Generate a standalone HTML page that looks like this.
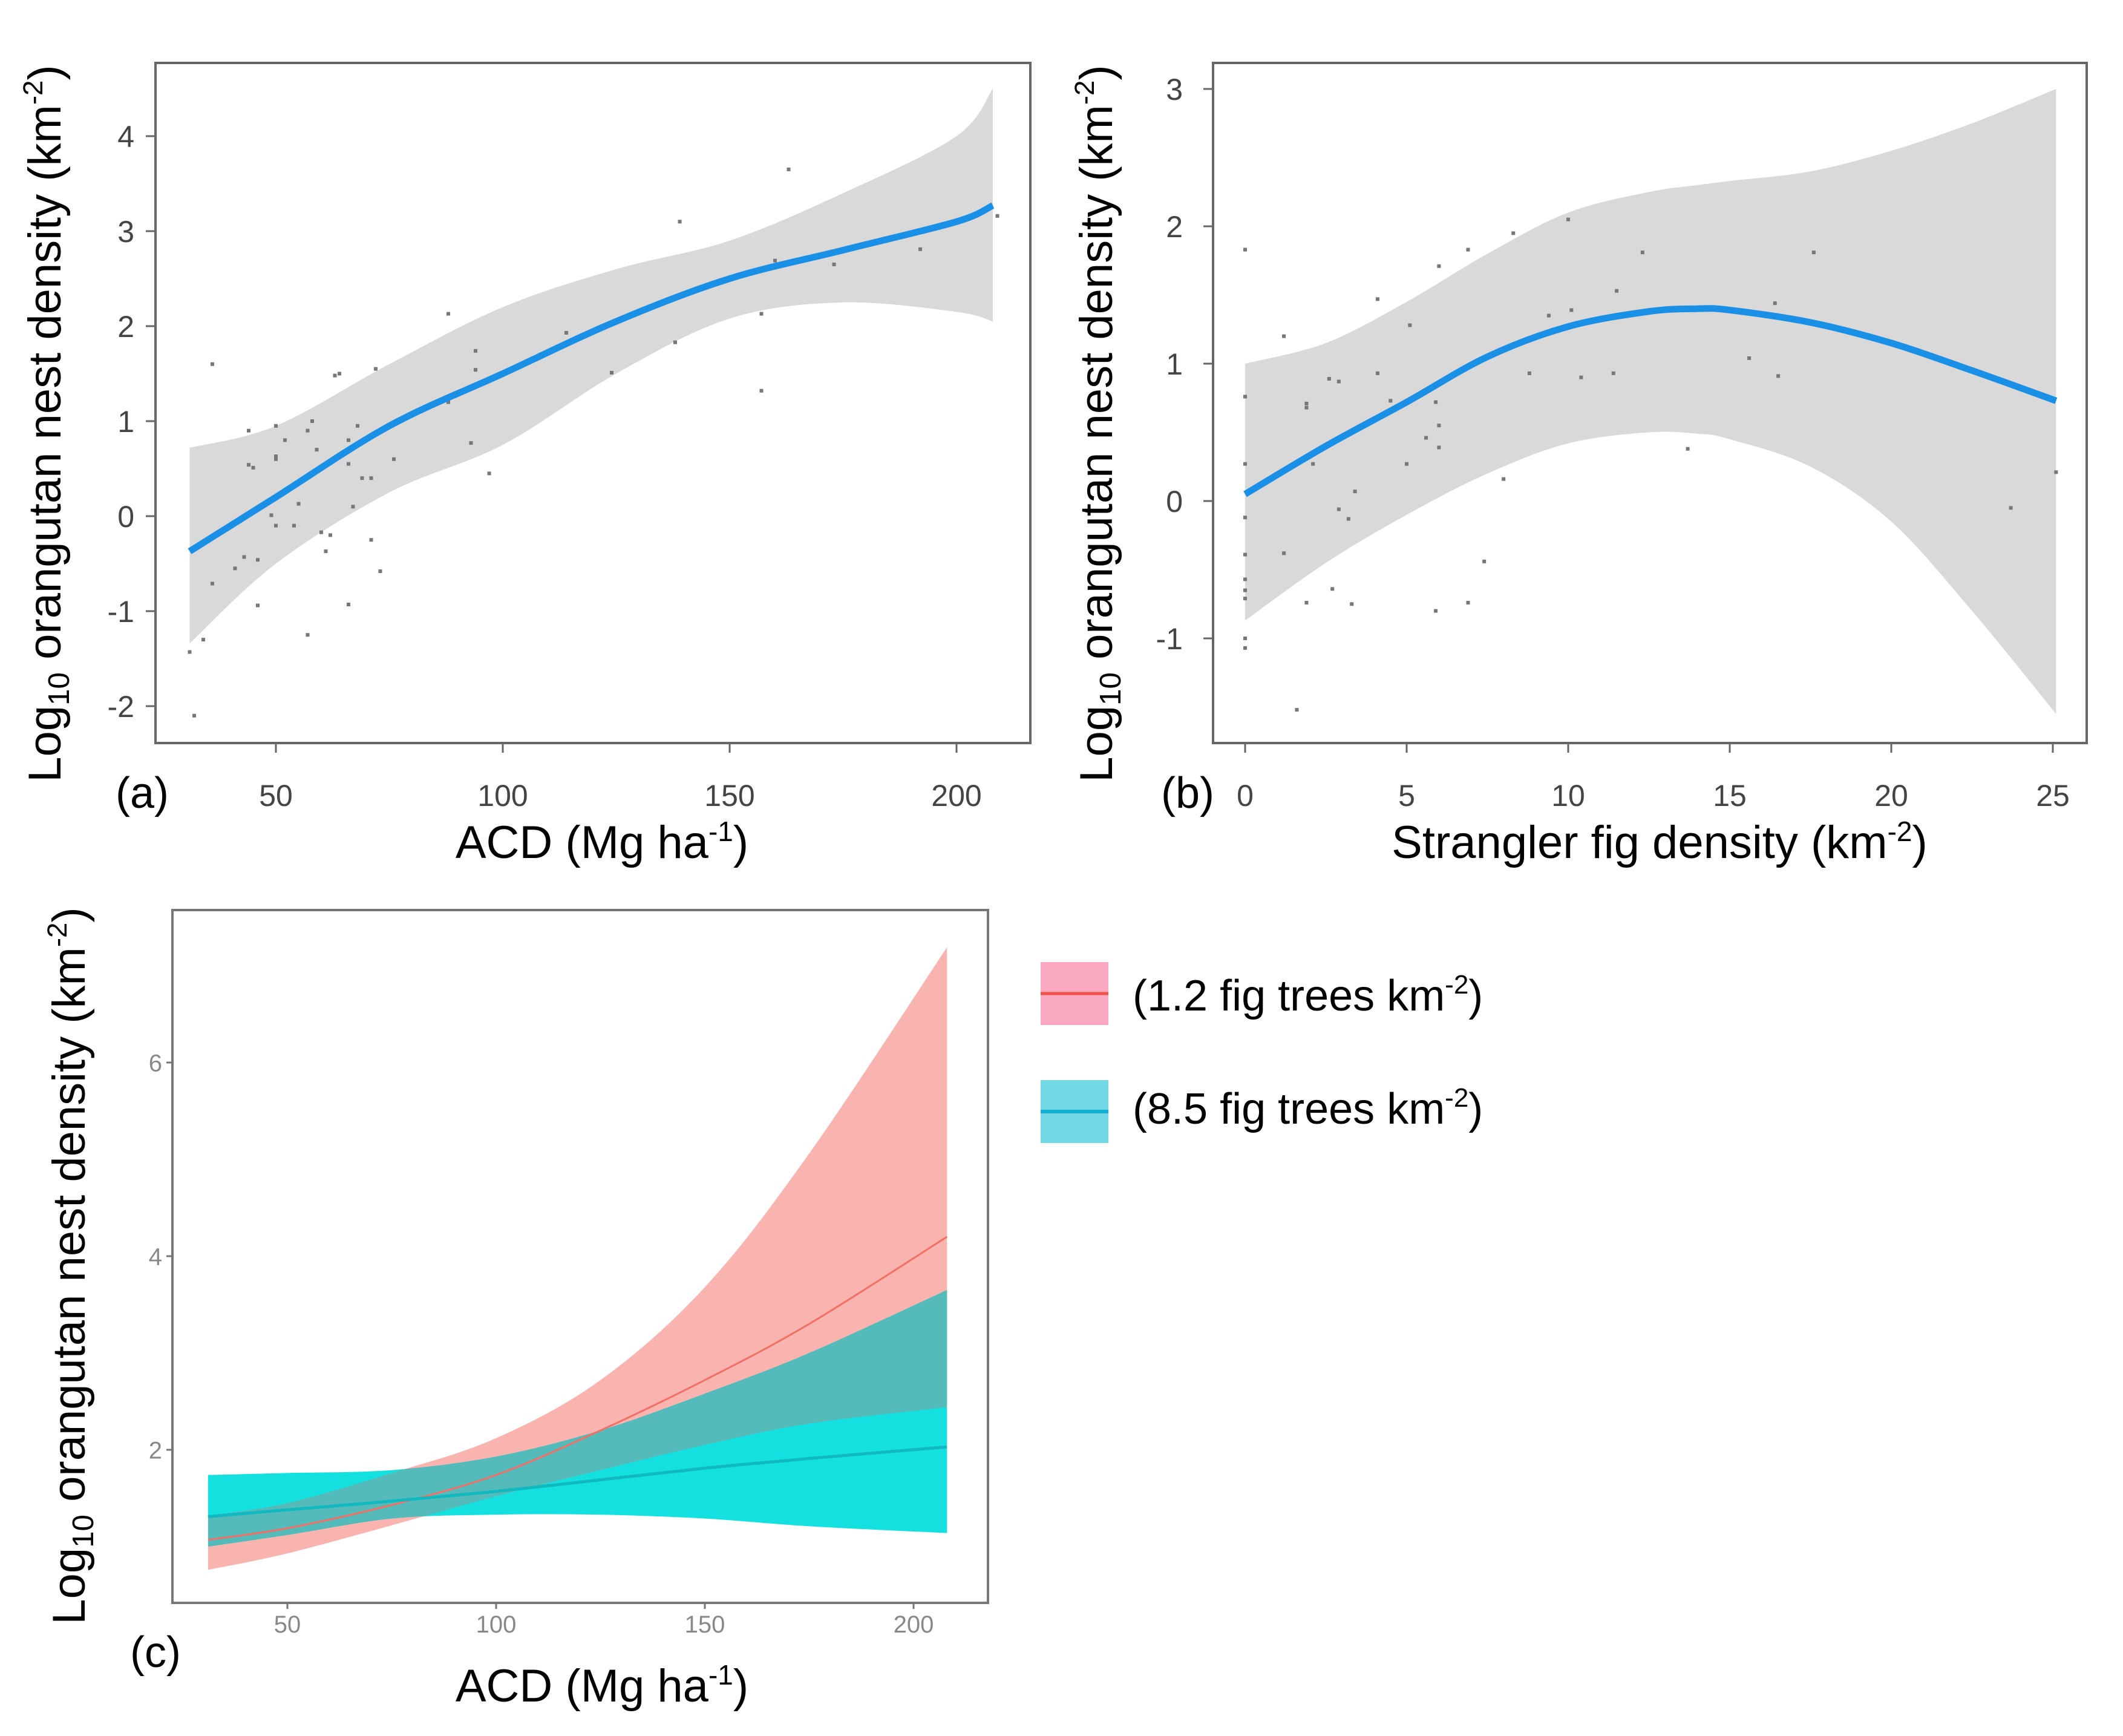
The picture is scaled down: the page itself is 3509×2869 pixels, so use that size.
<!DOCTYPE html>
<html><head><meta charset="utf-8"><style>
html,body{margin:0;padding:0;background:#fff;}
svg{display:block;}
text{font-family:"Liberation Sans",sans-serif;}
</style></head><body>
<svg id="fig" width="3509" height="2869" viewBox="0 0 3509 2869" xmlns="http://www.w3.org/2000/svg">
<rect width="3509" height="2869" fill="#fff"/>
<defs>
<clipPath id="redclip"><path id="redclipPath" d=""/></clipPath>
</defs>
<g id="pa"></g>
<g id="pb"></g>
<g id="pc"></g>
</svg>
<script>
// Panel a data
const aCurveX=[31,50,75,100,125,150,175,200,208];
const aFit=[-0.37,0.2,0.95,1.5,2.05,2.5,2.8,3.1,3.27];
const aUpper=[0.72,0.95,1.6,2.2,2.6,2.9,3.4,4.0,4.5];
const aLower=[-1.34,-0.5,0.25,0.75,1.5,2.08,2.25,2.15,2.05];
const aPtsX=[36,31,32,34,36,41,43,44,44,45,46,46,50,50,50,49,50,52,54,55,57,58,59,60,61,62,57,63,64,66,66,66,68,67,69,71,71,72,73,76,88,88,93,94,94,97,114,124,138,139,157,157,160,163,173,192,209];
const aPtsY=[1.6,-1.43,-2.1,-1.3,-0.71,-0.55,-0.43,0.9,0.54,0.51,-0.46,-0.94,0.95,0.63,0.6,0.01,-0.1,0.8,-0.1,0.13,0.9,1.0,0.7,-0.17,-0.37,-0.2,-1.25,1.48,1.5,0.8,0.55,-0.93,0.95,0.1,0.4,0.4,-0.25,1.55,-0.58,0.6,2.13,1.2,0.77,1.74,1.54,0.45,1.93,1.51,1.83,3.1,2.13,1.32,2.69,3.65,2.65,2.81,3.16];
const aXTicks=[50,100,150,200];
const aYTicks=[-2,-1,0,1,2,3,4];
// Panel b data
const bCurveX=[0,2.5,5,7.5,10,12.5,14,15,17.5,20,22.5,25.1];
const bFit=[0.05,0.4,0.72,1.05,1.27,1.38,1.4,1.39,1.3,1.15,0.95,0.73];
const bUpper=[1.0,1.15,1.45,1.8,2.1,2.25,2.3,2.33,2.4,2.55,2.75,3.0];
const bLower=[-0.87,-0.45,-0.1,0.2,0.42,0.5,0.49,0.45,0.25,-0.15,-0.8,-1.55];
const bPtsX=[0,0,0,0,0,0,0,0,0,0,1.2,1.2,1.6,1.9,1.9,1.9,2.1,2.6,2.9,2.7,2.9,3.2,3.3,3.4,4.1,4.1,4.5,5.1,5.0,5.6,5.9,6.0,5.9,6.0,6.0,6.9,6.9,7.4,8.0,8.3,8.8,9.4,10.0,10.1,10.4,11.4,11.5,12.3,13.7,15.6,16.4,16.5,17.6,23.7,25.1];
const bPtsY=[1.83,0.76,0.27,-0.12,-0.39,-0.57,-0.65,-0.71,-1.0,-1.07,1.2,-0.38,-1.52,0.71,0.68,-0.74,0.27,0.89,0.87,-0.64,-0.06,-0.13,-0.75,0.07,0.93,1.47,0.73,1.28,0.27,0.46,-0.8,1.71,0.72,0.55,0.39,1.83,-0.74,-0.44,0.16,1.95,0.93,1.35,2.05,1.39,0.9,0.93,1.53,1.81,0.38,1.04,1.44,0.91,1.81,-0.05,0.21];
const bXTicks=[0,5,10,15,20,25];
const bYTicks=[-1,0,1,2,3];
// Panel c data
const cX=[31,50,75,100,125,150,175,208];
const cRedFit=[1.07,1.19,1.43,1.74,2.2,2.72,3.3,4.2];
const cRedUpper=[1.32,1.45,1.76,2.12,2.72,3.68,5.06,7.19];
const cRedLower=[0.76,0.93,1.22,1.52,1.79,2.05,2.27,2.44];
const cTealFit=[1.31,1.38,1.47,1.57,1.69,1.81,1.91,2.03];
const cTealUpper=[1.74,1.76,1.79,1.93,2.2,2.58,3.0,3.65];
const cTealLower=[1.0,1.12,1.29,1.33,1.33,1.29,1.21,1.14];
const cXTicks=[50,100,150,200];
const cYTicks=[2,4,6];

const NS="http://www.w3.org/2000/svg";
function mk(parent,tag,attrs,txt){const e=document.createElementNS(NS,tag);for(const k in attrs)e.setAttribute(k,attrs[k]);if(txt!==undefined)e.textContent=txt;parent.appendChild(e);return e;}
function lin(d0,d1,p0,p1){return v=>p0+(v-d0)*(p1-p0)/(d1-d0);}
function smooth(pts){let d="M"+pts[0][0]+","+pts[0][1];for(let i=0;i<pts.length-1;i++){const p0=pts[Math.max(0,i-1)],p1=pts[i],p2=pts[i+1],p3=pts[Math.min(pts.length-1,i+2)];const c1=[p1[0]+(p2[0]-p0[0])/6,p1[1]+(p2[1]-p0[1])/6],c2=[p2[0]-(p3[0]-p1[0])/6,p2[1]-(p3[1]-p1[1])/6];d+=" C"+c1[0]+","+c1[1]+" "+c2[0]+","+c2[1]+" "+p2[0]+","+p2[1];}return d;}
function band(xs,up,lo,X,Y){const u=xs.map((x,i)=>[X(x),Y(up[i])]);const l=xs.map((x,i)=>[X(x),Y(lo[i])]).reverse();return smooth(u)+" L"+l[0][0]+","+l[0][1]+smooth(l).replace(/^M[^ ]+/,"")+" Z";}
function line(xs,ys,X,Y){return smooth(xs.map((x,i)=>[X(x),Y(ys[i])]));}
function ytitle(g,cx,cy,size){const t=mk(g,"text",{x:0,y:0,transform:`translate(${cx},${cy}) rotate(-90)`,"text-anchor":"middle","font-size":size,fill:"#000"});


t.innerHTML=`Log<tspan font-size="${size*0.65}" dy="14">10</tspan><tspan dy="-14"> orangutan nest density (km</tspan><tspan font-size="${size*0.6}" dy="-30">-2</tspan><tspan dy="30">)</tspan>`;}

function axes(g,box,X,Y,xt,yt,opt){
  mk(g,"rect",{x:box[0],y:box[1],width:box[2]-box[0],height:box[3]-box[1],fill:"none",stroke:opt.frame,"stroke-width":4,});
  xt.forEach(v=>{mk(g,"line",{x1:X(v),x2:X(v),y1:box[3],y2:box[3]+opt.tl,stroke:opt.frame,"stroke-width":3,});
    mk(g,"text",{x:X(v),y:opt.xly,"text-anchor":"middle","font-size":opt.fs,fill:opt.tc,},String(v));});
  yt.forEach(v=>{mk(g,"line",{x1:box[0],x2:box[0]-opt.tl,y1:Y(v),y2:Y(v),stroke:opt.frame,"stroke-width":3,});
    mk(g,"text",{x:opt.ylx,y:Y(v)+opt.fs*0.36,"text-anchor":"end","font-size":opt.fs,fill:opt.tc,},String(v));});
}

// Panel a
(function(){const g=document.getElementById("pa");const box=[257,104,1703,1228];
const X=lin(50,200,456,1581),Y=lin(0,1,853,696);
mk(g,"path",{d:band(aCurveX,aUpper,aLower,X,Y),fill:"#d9d9d9",});
aPtsX.forEach((x,i)=>{mk(g,"rect",{x:X(x)-3,y:Y(aPtsY[i])-3,width:6,height:6,fill:"#777",});});
mk(g,"path",{d:line(aCurveX,aFit,X,Y),fill:"none",stroke:"#1a8fe6","stroke-width":11,});
axes(g,box,X,Y,aXTicks,aYTicks,{frame:"#666",tl:16,fs:50,tc:"#444",xly:1332,ylx:222});
mk(g,"text",{x:235,y:1335,"text-anchor":"middle","font-size":72,fill:"#000",},"(a)");
const xt=mk(g,"text",{x:995,y:1418,"text-anchor":"middle","font-size":76,fill:"#000",});
xt.innerHTML='ACD (Mg ha<tspan font-size="46" dy="-28">-1</tspan><tspan dy="28">)</tspan>';
ytitle(g,100,700,76);})();

// Panel b
(function(){const g=document.getElementById("pb");const box=[2005,104,3449,1228];
const X=lin(0,5,2058,2325),Y=lin(0,1,828,601);
mk(g,"path",{d:band(bCurveX,bUpper,bLower,X,Y),fill:"#d9d9d9",});
bPtsX.forEach((x,i)=>{mk(g,"rect",{x:X(x)-3,y:Y(bPtsY[i])-3,width:6,height:6,fill:"#777",});});
mk(g,"path",{d:line(bCurveX,bFit,X,Y),fill:"none",stroke:"#1a8fe6","stroke-width":11,});
axes(g,box,X,Y,bXTicks,bYTicks,{frame:"#666",tl:16,fs:50,tc:"#444",xly:1332,ylx:1955});
mk(g,"text",{x:1963,y:1335,"text-anchor":"middle","font-size":72,fill:"#000",},"(b)");
const xt=mk(g,"text",{x:2743,y:1418,"text-anchor":"middle","font-size":76,fill:"#000",});
xt.innerHTML='Strangler fig density (km<tspan font-size="46" dy="-28">-2</tspan><tspan dy="28">)</tspan>';
ytitle(g,1838,700,76);})();

// Panel c
(function(){const g=document.getElementById("pc");const box=[285,1504,1633,2649];
const X=lin(50,200,475,1510),Y=lin(0,1,2716,2556);
const red=band(cX,cRedUpper,cRedLower,X,Y),teal=band(cX,cTealUpper,cTealLower,X,Y);
document.getElementById("redclipPath").setAttribute("d",red);
mk(g,"path",{d:red,fill:"#fab4b0",});
mk(g,"path",{d:teal,fill:"#15e0e0",});
mk(g,"path",{d:teal,fill:"#55bbba","clip-path":"url(#redclip)",});
mk(g,"path",{d:line(cX,cRedFit,X,Y),fill:"none",stroke:"#f26f66","stroke-width":3,});
mk(g,"path",{d:line(cX,cTealFit,X,Y),fill:"none",stroke:"#10b8c0","stroke-width":5,});
axes(g,box,X,Y,cXTicks,cYTicks,{frame:"#777",tl:10,fs:40,tc:"#888",xly:2698,ylx:268});
mk(g,"text",{x:257,y:2755,"text-anchor":"middle","font-size":72,fill:"#000",},"(c)");
const xt=mk(g,"text",{x:995,y:2812,"text-anchor":"middle","font-size":76,fill:"#000",});
xt.innerHTML='ACD (Mg ha<tspan font-size="46" dy="-28">-1</tspan><tspan dy="28">)</tspan>';
ytitle(g,140,2092,76);
const lg=mk(g,"g",{});
mk(lg,"rect",{x:1720,y:1590,width:112,height:104,fill:"#fba9c0",});
mk(lg,"line",{x1:1720,x2:1832,y1:1642,y2:1642,stroke:"#f0524a","stroke-width":5,});
const t1=mk(lg,"text",{x:1872,y:1670,"font-size":72,fill:"#000",});
t1.innerHTML='(1.2 fig trees km<tspan font-size="44" dy="-28">-2</tspan><tspan dy="28">)</tspan>';
mk(lg,"rect",{x:1720,y:1785,width:112,height:104,fill:"#72d8e6",});
mk(lg,"line",{x1:1720,x2:1832,y1:1837,y2:1837,stroke:"#12aed4","stroke-width":6,});
const t2=mk(lg,"text",{x:1872,y:1857,"font-size":72,fill:"#000",});
t2.innerHTML='(8.5 fig trees km<tspan font-size="44" dy="-28">-2</tspan><tspan dy="28">)</tspan>';
})();
</script>
</body></html>
